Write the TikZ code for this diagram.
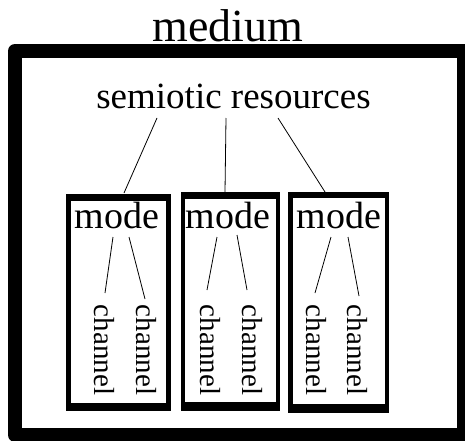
\documentclass[tikz,border=0pt]{standalone}
\usepackage{fontspec}
\setmainfont{Liberation Serif}
\begin{document}
\begin{tikzpicture}[x=1pt,y=1pt,
  label/.style={inner sep=0pt, anchor=base},
  link/.style={line width=0.8pt},
  chan/.style={inner sep=0pt, rotate=-90, font=\fontsize{29}{30}\selectfont}]
\useasboundingbox (0,0) rectangle (465,440);
\clip (0,0) rectangle (465,440);
\fill[white] (0,0) rectangle (465,440);

% heavy medium frame
\draw[line width=14pt, line join=round] (15,389) rectangle (464,5);
\node[label, font=\fontsize{46}{50}\selectfont] (medium) at (228,398) {medium};

% semiotic resources
\node[label, font=\fontsize{37}{40}\selectfont] (sr) at (233.5,332) {semiotic resources};

% mode boxes: black outer frame with a white inside
\fill[black] (66,29) rectangle (171,246);
\fill[white] (71,37) rectangle (166,239);
\fill[black] (181,29) rectangle (280,248);
\fill[white] (185,38) rectangle (276,241);
\fill[black] (288,27) rectangle (389,248);
\fill[white] (293,36) rectangle (385,242);

\node[label, font=\fontsize{38}{40}\selectfont] (m1) at (117,212) {mode};
\node[label, font=\fontsize{38}{40}\selectfont] (m2) at (228,212) {mode};
\node[label, font=\fontsize{38}{40}\selectfont] (m3) at (339,212) {mode};

\node[chan] (c1a) at (104,90) {channel};
\node[chan] (c1b) at (146,90) {channel};
\node[chan] (c2a) at (210,90) {channel};
\node[chan] (c2b) at (252,90) {channel};
\node[chan] (c3a) at (316,90) {channel};
\node[chan] (c3b) at (357,90) {channel};

% connector end points
\coordinate (sr1) at (157,322);
\coordinate (sr2) at (226,322);
\coordinate (sr3) at (278,322);
\coordinate (t1) at (124,247);
\coordinate (t2) at (225,248);
\coordinate (t3) at (325,248);

\coordinate (m1l) at (113,203);
\coordinate (m1r) at (129,203);
\coordinate (m2l) at (217,203);
\coordinate (m2r) at (237,205);
\coordinate (m3l) at (331,203);
\coordinate (m3r) at (348,203);

\coordinate (c1at) at (105,147);
\coordinate (c1bt) at (145,141);
\coordinate (c2at) at (207,150);
\coordinate (c2bt) at (247,150);
\coordinate (c3at) at (315,147);
\coordinate (c3bt) at (359,144);

\draw[link] (sr1) -- (t1);
\draw[link] (sr2) -- (t2);
\draw[link] (sr3) -- (t3);

\draw[link] (m1l) -- (c1at);
\draw[link] (m1r) -- (c1bt);
\draw[link] (m2l) -- (c2at);
\draw[link] (m2r) -- (c2bt);
\draw[link] (m3l) -- (c3at);
\draw[link] (m3r) -- (c3bt);
\end{tikzpicture}
\end{document}
